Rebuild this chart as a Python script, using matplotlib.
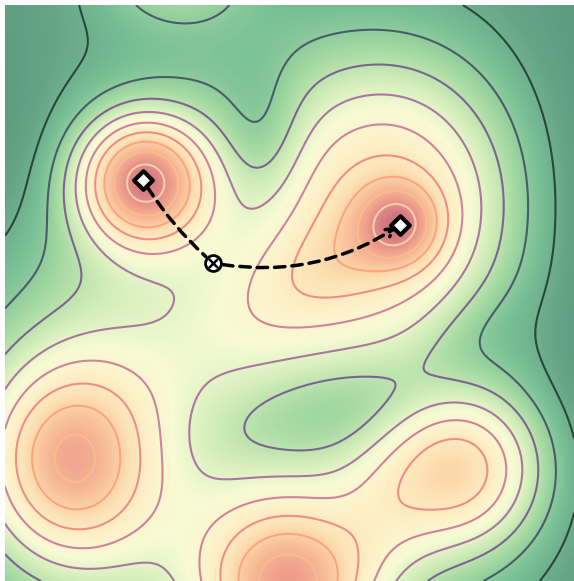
import numpy as np
import matplotlib
matplotlib.use("Agg")
import matplotlib.pyplot as plt
from matplotlib.colors import LinearSegmentedColormap
from matplotlib.patches import FancyArrowPatch

# Gaussian components of the energy surface (pixel-like coords, y downward)
comp_name  = ["base", "min_A", "min_B_core", "min_B_broad", "min_B_tail", "well_LL",
              "well_B", "well_LR", "bridge", "valley", "channel", "right_edge",
              "top_bump", "notch", "corner"]
comp_x     = [230, 143, 400, 395, 320, 68, 290, 462, 385, 335, 475, 640, 175, 262, -10]
comp_y     = [390, 180, 225, 190, 272, 462, 588, 470, 515, 412, 335, 260, -25, 140, 150]
comp_amp   = [0.40, 0.72, 0.30, 0.45, 0.12, 0.57, 0.60, 0.50, 0.08, -0.17, -0.06, -0.12, 0.20, -0.12, -0.10]
comp_sx    = [190, 45, 28, 90, 75, 62, 62, 60, 35, 110, 45, 70, 60, 30, 50]
comp_sy    = [220, 45, 28, 100, 35, 72, 58, 60, 45, 40, 30, 200, 40, 50, 90]
comp_theta = [0, 0, 0, 0, -28, 0, 0, 0, 0, -12, -35, 0, 0, 0, 0]

# minima (diamonds) and transition state (circle with cross)
minima_x = [143, 400]
minima_y = [180, 225]
saddle_x = [213]
saddle_y = [263]

levels = np.linspace(0.1, 0.9, 9)

X, Y = np.meshgrid(np.linspace(5, 574, 570), np.linspace(5, 581, 577))
Z = np.zeros_like(X)
for cx, cy, a, sx, sy, th in zip(comp_x, comp_y, comp_amp, comp_sx, comp_sy, comp_theta):
    t = np.deg2rad(th)
    dx, dy = X - cx, Y - cy
    u = np.cos(t) * dx + np.sin(t) * dy
    v = -np.sin(t) * dx + np.cos(t) * dy
    Z += a * np.exp(-0.5 * ((u / sx) ** 2 + (v / sy) ** 2))

fill_cmap = LinearSegmentedColormap.from_list("pes", [
    (0.00, "#5e9c80"), (0.06, "#66a687"), (0.15, "#78c096"),
    (0.25, "#a6daa2"), (0.35, "#d4eebb"), (0.45, "#f8fbd5"),
    (0.55, "#fdf1c9"), (0.65, "#fde2b6"), (0.75, "#f9c19b"),
    (0.85, "#f0a08c"), (1.00, "#cc6a80")])

fig = plt.figure(figsize=(5.74, 5.81), dpi=100)
ax = fig.add_axes([5 / 574, 0, 569 / 574, 576 / 581])
ax.imshow(Z, extent=[5, 574, 581, 5], origin="upper", cmap=fill_cmap,
          vmin=0.0, vmax=1.0, interpolation="bilinear", aspect="auto")
line_colors = [plt.cm.magma(v) for v in np.linspace(0.0, 1.0, len(levels))]
ax.contour(X, Y, Z, levels=levels, colors=line_colors,
           linewidths=1.5, alpha=0.6)

a1 = FancyArrowPatch((minima_x[0], minima_y[0]), (saddle_x[0], saddle_y[0]),
                     connectionstyle="arc3,rad=0.08", arrowstyle="-",
                     linestyle=(0, (3, 2)), lw=2.5, color="black",
                     shrinkA=6, shrinkB=7, zorder=5)
a2 = FancyArrowPatch((saddle_x[0], saddle_y[0]), (minima_x[1], minima_y[1]),
                     connectionstyle="arc3,rad=0.2", arrowstyle="->,head_length=6,head_width=3",
                     linestyle=(0, (3, 2)), lw=2.5, color="black",
                     shrinkA=7, shrinkB=2, zorder=5)
ax.add_patch(a1)
ax.add_patch(a2)
ax.scatter(minima_x, minima_y, marker="D", s=90, facecolor="white",
           edgecolor="black", linewidth=3, zorder=6)
ax.scatter(saddle_x, saddle_y, marker="o", s=130, facecolor="white",
           edgecolor="black", linewidth=2, zorder=6)
ax.scatter(saddle_x, saddle_y, marker="x", s=45, color="black",
           linewidth=1.8, zorder=7)

ax.set_xlim(5, 574)
ax.set_ylim(581, 5)
ax.axis("off")
fig.savefig("out.png", dpi=100)
